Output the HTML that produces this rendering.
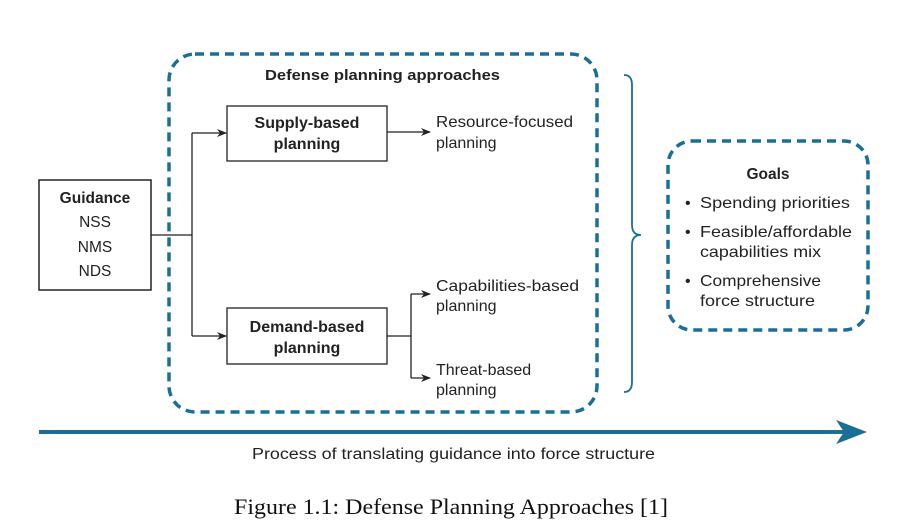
<!DOCTYPE html>
<html><head><meta charset="utf-8"><style>
html,body{margin:0;padding:0;background:#fff;}
svg{display:block;}
text{font-family:"Liberation Sans",sans-serif;font-size:16px;fill:#222;}
.b{font-weight:bold;}
</style></head><body>
<svg width="916" height="529" viewBox="0 0 916 529" xmlns="http://www.w3.org/2000/svg">
<defs>
<marker id="a" markerWidth="10" markerHeight="8" refX="9" refY="4" orient="auto" markerUnits="userSpaceOnUse">
<path d="M0,0 L10,4 L0,8 L3,4 Z" fill="#222"/></marker>
</defs>
<rect x="169" y="54" width="428" height="358" rx="26" fill="none" stroke="#1a6f98" stroke-width="3.5" stroke-dasharray="9,6"/>
<text x="265" y="80" class="b" style="font-size:15px" textLength="235" lengthAdjust="spacingAndGlyphs">Defense planning approaches</text>
<rect x="39" y="180" width="112" height="110" fill="none" stroke="#222" stroke-width="1.5"/>
<text x="95" y="203" text-anchor="middle" class="b" style="font-size:15.5px">Guidance</text>
<text x="95" y="227" text-anchor="middle" style="font-size:15.5px">NSS</text>
<text x="95" y="252" text-anchor="middle" style="font-size:15.5px">NMS</text>
<text x="95" y="276" text-anchor="middle" style="font-size:15.5px">NDS</text>
<g stroke="#222" stroke-width="1.3" fill="none">
<path d="M151,235 H192 M192,133 V336"/>
<path d="M192,133 H226" marker-end="url(#a)"/>
<path d="M192,336 H226" marker-end="url(#a)"/>
<path d="M387,132 H430" marker-end="url(#a)"/>
<path d="M387,336 H411 M411,294 V378"/>
<path d="M411,294 H430" marker-end="url(#a)"/>
<path d="M411,378 H430" marker-end="url(#a)"/>
</g>
<rect x="227" y="106" width="160" height="55" fill="none" stroke="#222" stroke-width="1.3"/>
<text x="307" y="128" text-anchor="middle" class="b" style="font-size:16px">Supply-based</text>
<text x="307" y="149" text-anchor="middle" class="b" style="font-size:16px">planning</text>
<rect x="227" y="308" width="160" height="56" fill="none" stroke="#222" stroke-width="1.3"/>
<text x="307" y="332" text-anchor="middle" class="b" style="font-size:16px">Demand-based</text>
<text x="307" y="353" text-anchor="middle" class="b" style="font-size:16px">planning</text>
<text x="436" y="127" textLength="137" lengthAdjust="spacingAndGlyphs">Resource-focused</text>
<text x="436" y="148">planning</text>
<text x="436" y="291" textLength="143" lengthAdjust="spacingAndGlyphs">Capabilities-based</text>
<text x="436" y="311">planning</text>
<text x="436" y="375">Threat-based</text>
<text x="436" y="395">planning</text>
<path d="M624,75 Q632,75 632,85 V225 Q632,235 641,235 Q632,235 632,245 V382 Q632,392 624,392" fill="none" stroke="#1a6f98" stroke-width="1.8"/>
<rect x="668" y="141" width="200" height="189" rx="24" fill="none" stroke="#1a6f98" stroke-width="3.5" stroke-dasharray="9,6"/>
<text x="768" y="179" text-anchor="middle" class="b" style="font-size:15.5px">Goals</text>
<text x="685" y="208">•</text><text x="700" y="208" textLength="150" lengthAdjust="spacingAndGlyphs">Spending priorities</text>
<text x="685" y="237">•</text><text x="700" y="237" textLength="152" lengthAdjust="spacingAndGlyphs">Feasible/affordable</text>
<text x="700" y="257" textLength="121" lengthAdjust="spacingAndGlyphs">capabilities mix</text>
<text x="685" y="286">•</text><text x="700" y="286" textLength="121" lengthAdjust="spacingAndGlyphs">Comprehensive</text>
<text x="700" y="306" textLength="115" lengthAdjust="spacingAndGlyphs">force structure</text>
<path d="M39,432 H845" stroke="#1a6f98" stroke-width="4"/>
<path d="M836,420 L867,432 L836,444 L844,432 Z" fill="#1a6f98"/>
<text x="252" y="459" style="font-size:15.5px" textLength="403" lengthAdjust="spacingAndGlyphs">Process of translating guidance into force structure</text>
<text x="234" y="514" style="font-family:'Liberation Serif',serif;font-size:22px;fill:#111" textLength="434" lengthAdjust="spacingAndGlyphs">Figure 1.1: Defense Planning Approaches [1]</text>
</svg>
</body></html>
